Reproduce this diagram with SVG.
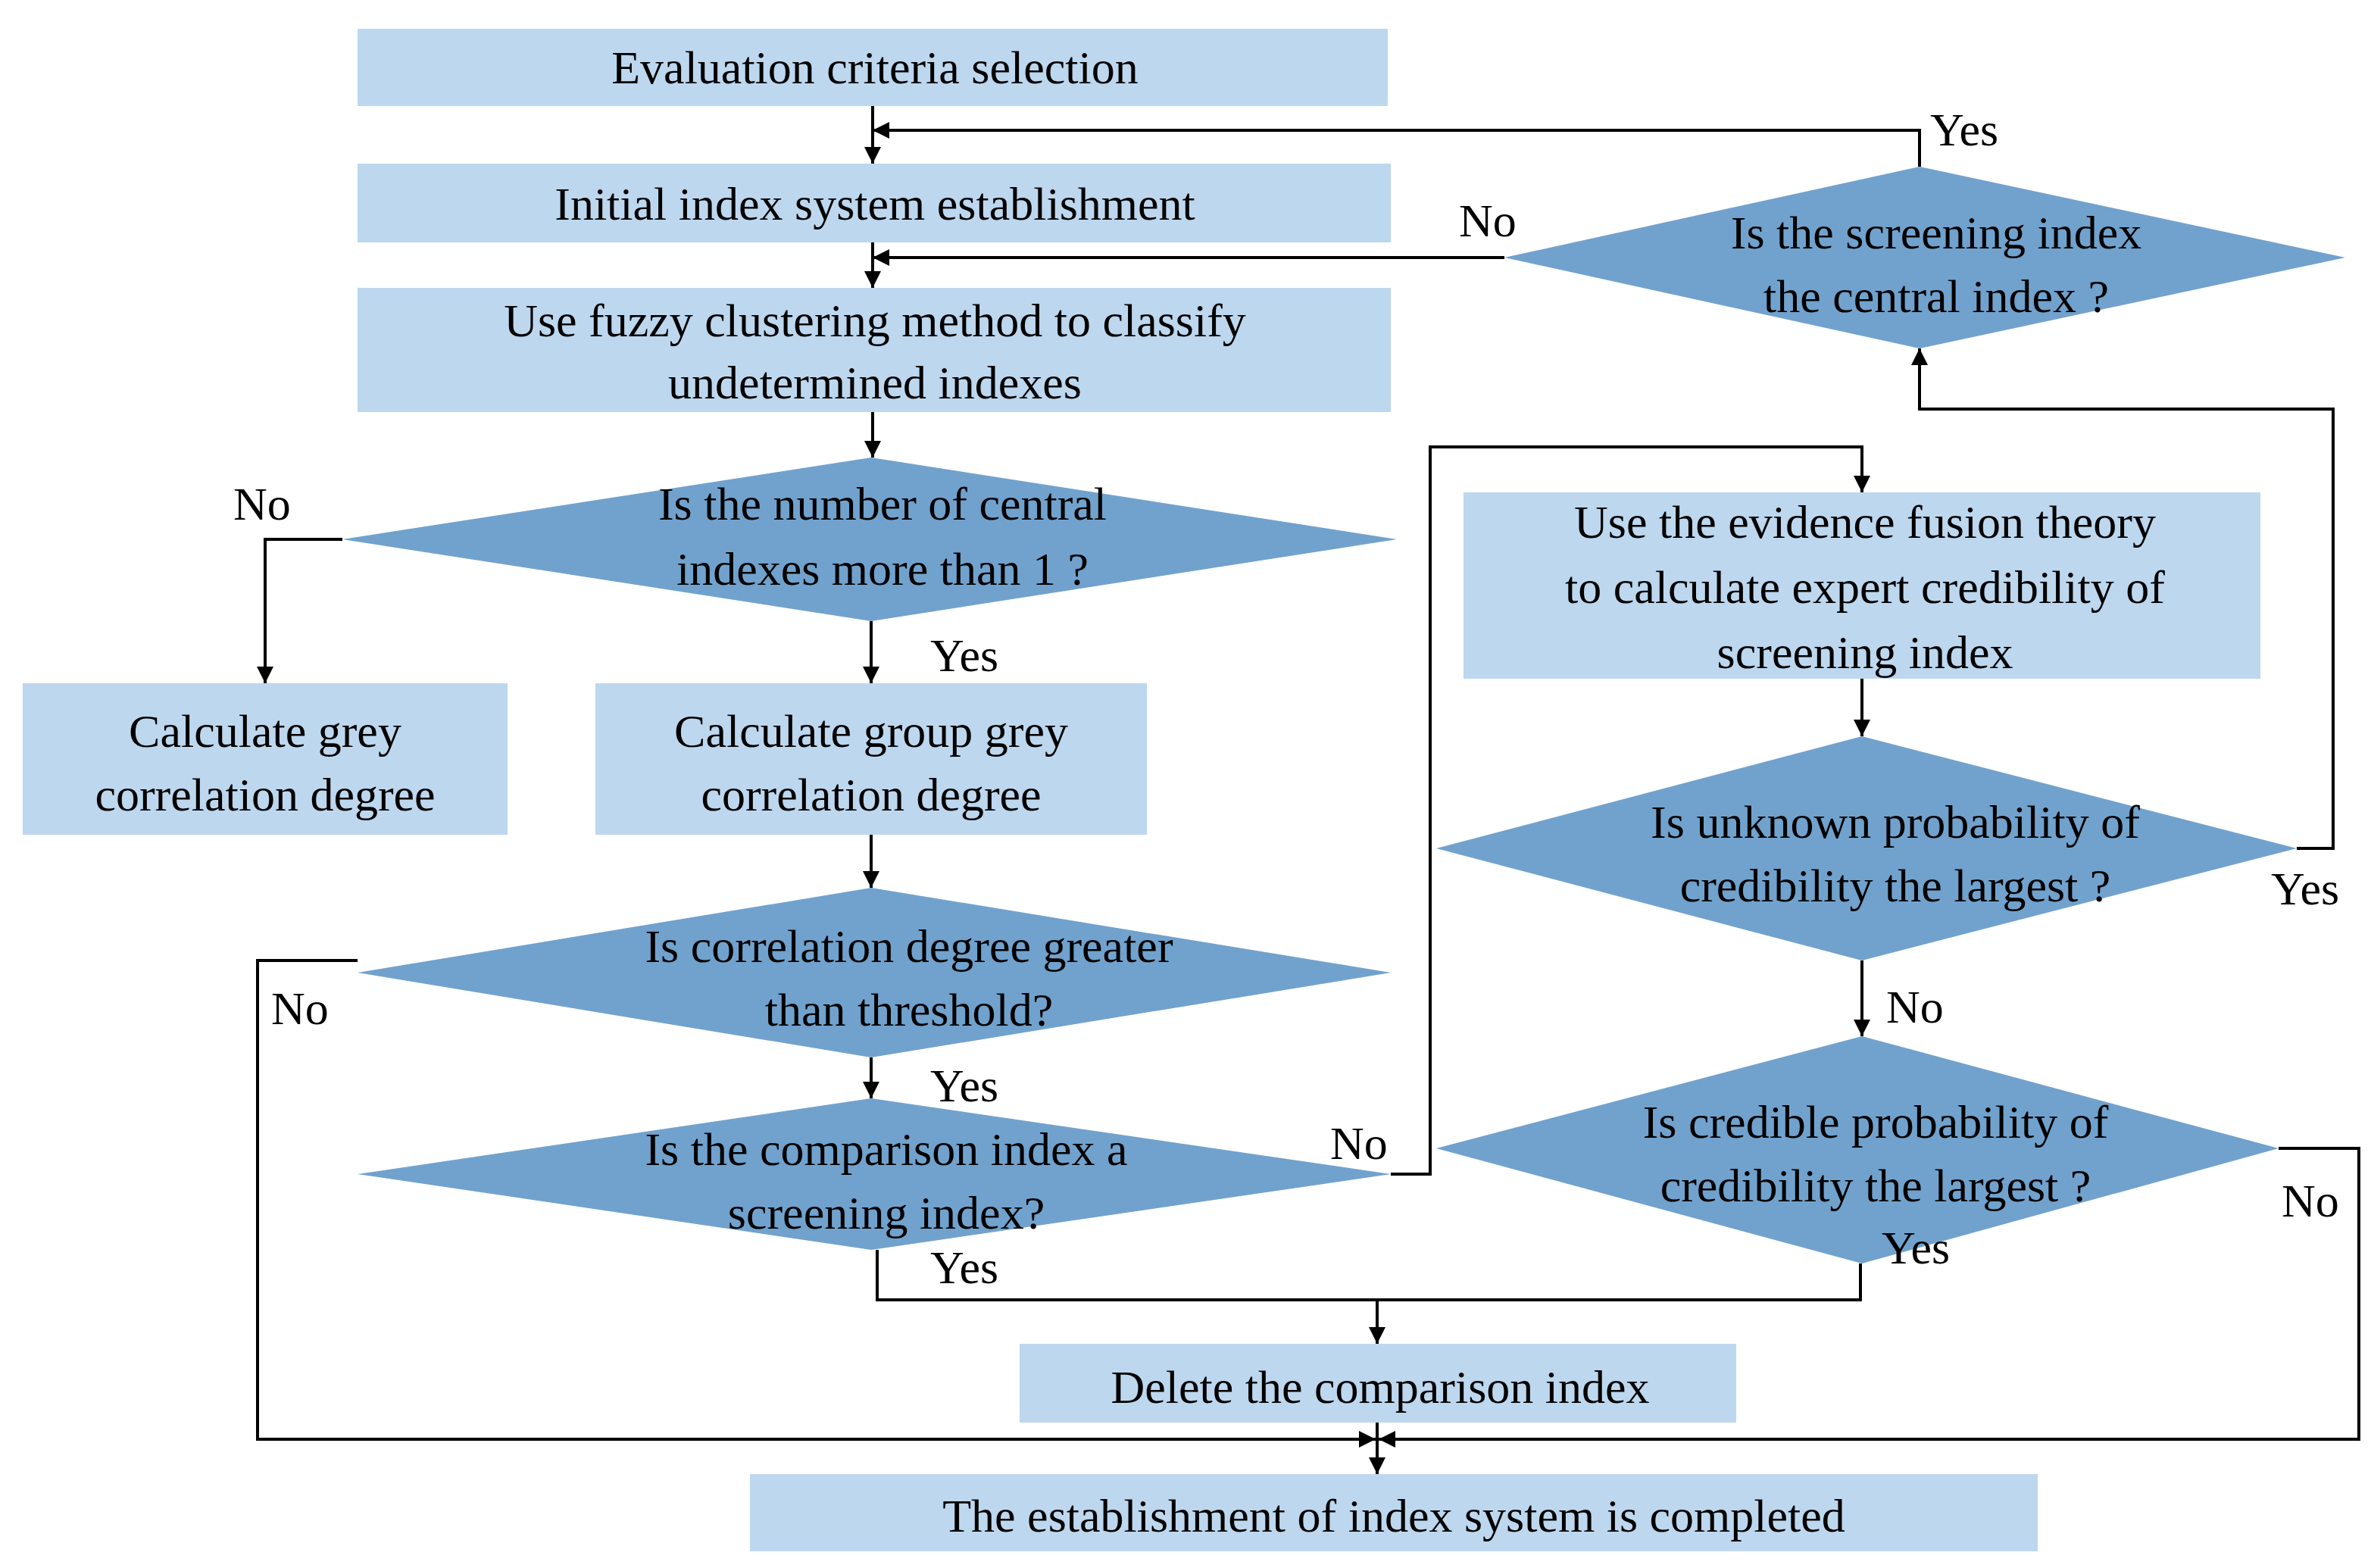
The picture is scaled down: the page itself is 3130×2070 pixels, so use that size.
<svg xmlns="http://www.w3.org/2000/svg" width="3130" height="2070" viewBox="0 0 3130 2070">
<defs>
<marker id="ar" viewBox="0 0 10 10" refX="10" refY="5" markerWidth="22" markerHeight="22" markerUnits="userSpaceOnUse" orient="auto"><path d="M0,0 L10,5 L0,10 z" fill="#000"/></marker>
<style>
.b{fill:#BDD7EE}
.d{fill:#71A2CD}
text{font-family:"Liberation Serif","DejaVu Serif",serif;font-size:62px;fill:#000;text-anchor:middle}
.l{text-anchor:start}
.c{fill:none;stroke:#000;stroke-width:4;marker-end:url(#ar)}
.n{fill:none;stroke:#000;stroke-width:4}
</style>
</defs>
<rect width="3130" height="2070" fill="#fff"/>
<g id="n1"><rect class="b" x="472" y="38" width="1360" height="102"/><text x="1155" y="110">Evaluation criteria selection</text></g>
<g id="n2"><rect class="b" x="472" y="216" width="1364" height="104"/><text x="1155" y="290">Initial index system establishment</text></g>
<g id="n3"><rect class="b" x="472" y="380" width="1364" height="164"/><text x="1155" y="444">Use fuzzy clustering method to classify</text><text x="1155" y="526">undetermined indexes</text></g>
<g id="d1"><polygon class="d" points="452,712 1150,604 1844,712 1150,820"/><text x="1165" y="686">Is the number of central</text><text x="1165" y="772">indexes more than 1 ?</text></g>
<g id="n4"><rect class="b" x="30" y="902" width="640" height="200"/><text x="350" y="986">Calculate grey</text><text x="350" y="1070">correlation degree</text></g>
<g id="n5"><rect class="b" x="786" y="902" width="728" height="200"/><text x="1150" y="986">Calculate group grey</text><text x="1150" y="1070">correlation degree</text></g>
<g id="d2"><polygon class="d" points="472,1284 1150,1172 1836,1284 1150,1396"/><text x="1200" y="1270">Is correlation degree greater</text><text x="1200" y="1354">than threshold?</text></g>
<g id="d3"><polygon class="d" points="472,1550 1150,1450 1836,1550 1150,1650"/><text x="1170" y="1538">Is the comparison index a</text><text x="1170" y="1622">screening index?</text></g>
<g id="n6"><rect class="b" x="1346" y="1774" width="946" height="104"/><text x="1822" y="1852">Delete the comparison index</text></g>
<g id="n7"><rect class="b" x="990" y="1946" width="1700" height="102"/><text x="1840" y="2022">The establishment of index system is completed</text></g>
<g id="d4"><polygon class="d" points="1986,340 2534,220 3096,340 2534,460"/><text x="2556" y="328">Is the screening index</text><text x="2556" y="412">the central index ?</text></g>
<g id="n8"><rect class="b" x="1932" y="650" width="1052" height="246"/><text x="2462" y="710">Use the evidence fusion theory</text><text x="2462" y="796">to calculate expert credibility of</text><text x="2462" y="882">screening index</text></g>
<g id="d5"><polygon class="d" points="1896,1120 2458,972 3032,1120 2458,1268"/><text x="2502" y="1106">Is unknown probability of</text><text x="2502" y="1190">credibility the largest ?</text></g>
<g id="d6"><polygon class="d" points="1896,1516 2458,1368 3008,1516 2458,1668"/><text x="2476" y="1502">Is credible probability of</text><text x="2476" y="1586">credibility the largest ?</text></g>
<g id="connectors">
<path class="c" d="M1152,140 V216"/>
<path class="c" d="M2534,220 V172 H1152"/>
<path class="c" d="M1986,340 H1152"/>
<path class="c" d="M1152,320 V380"/>
<path class="c" d="M1152,544 V604"/>
<path class="c" d="M452,712 H350 V902"/>
<path class="c" d="M1150,820 V902"/>
<path class="c" d="M1150,1102 V1172"/>
<path class="c" d="M472,1268 H340 V1900 H1816"/>
<path class="c" d="M1150,1396 V1450"/>
<path class="c" d="M1836,1550 H1888 V590 H2458 V650"/>
<path class="n" d="M1158,1650 V1716 H2456 V1668"/>
<path class="c" d="M1818,1716 V1774"/>
<path class="c" d="M2458,896 V972"/>
<path class="c" d="M3032,1120 H3080 V540 H2534 V460"/>
<path class="c" d="M2458,1268 V1368"/>
<path class="c" d="M3008,1516 H3114 V1900 H1820"/>
<path class="c" d="M1818,1878 V1946"/>
</g>
<g id="labels">
<text class="l" x="2548" y="192">Yes</text>
<text class="l" x="1926" y="312">No</text>
<text class="l" x="308" y="686">No</text>
<text class="l" x="1228" y="886">Yes</text>
<text class="l" x="358" y="1352">No</text>
<text class="l" x="1228" y="1454">Yes</text>
<text class="l" x="1756" y="1530">No</text>
<text class="l" x="1228" y="1694">Yes</text>
<text class="l" x="2998" y="1194">Yes</text>
<text class="l" x="2490" y="1350">No</text>
<text class="l" x="2484" y="1668">Yes</text>
<text class="l" x="3012" y="1606">No</text>
</g>
</svg>
